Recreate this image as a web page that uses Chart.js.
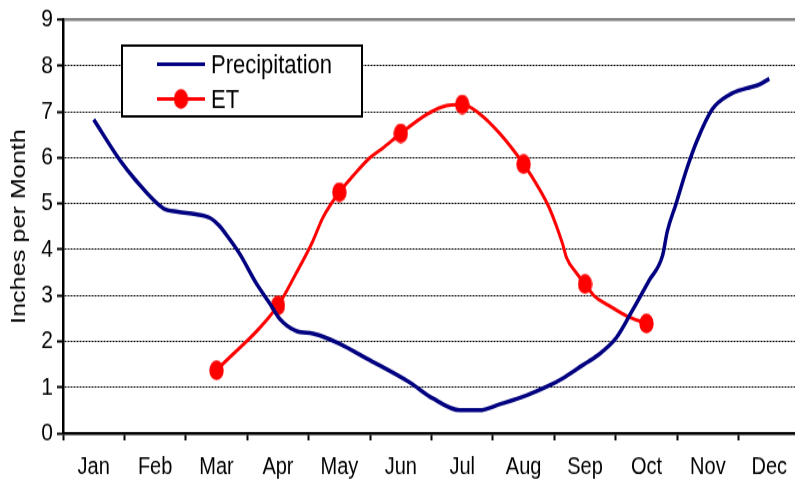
<!DOCTYPE html>
<html>
<head>
<meta charset="utf-8">
<script src="https://cdn.jsdelivr.net/npm/chart.js@4/dist/chart.umd.min.js"></script>
<style>
  html, body { margin: 0; padding: 0; background: #fff; overflow: hidden; width: 795px; height: 481px; }
  #wrap { transform: scaleY(1.2); transform-origin: 0 0; }
  canvas { display: block; }
</style>
</head>
<body>
<div id="wrap"><canvas id="c" width="810" height="401"></canvas></div>
<script>
// month labels, position 1 = Jan centre
const months = ['Jan', 'Feb', 'Mar', 'Apr', 'May', 'Jun', 'Jul', 'Aug', 'Sep', 'Oct', 'Nov', 'Dec'];

// precipitation trace
const precipMonth = [1.00, 1.44, 1.67, 2.13, 2.37, 2.66, 2.89, 3.05, 3.15, 3.38, 3.64, 3.87, 4.03, 4.29, 4.57, 4.68,
  5.00, 5.44, 6.14, 6.52, 6.96, 7.28, 7.61, 8.04, 8.42, 8.63, 8.96, 9.20, 9.51, 9.77, 10.04, 10.26, 10.34, 10.48,
  10.66, 10.82, 11.07, 11.35, 11.62, 11.83, 12.00];
const precipValue = [6.83, 5.92, 5.53, 4.90, 4.82, 4.77, 4.69, 4.51, 4.34, 3.90, 3.28, 2.82, 2.49, 2.23, 2.17, 2.13,
  1.95, 1.63, 1.11, 0.76, 0.50, 0.50, 0.63, 0.82, 1.04, 1.19, 1.48, 1.69, 2.08, 2.67, 3.32, 3.86, 4.40, 4.99,
  5.77, 6.36, 7.05, 7.37, 7.51, 7.59, 7.72];

// ET trace, markers sit on whole months (Mar..Oct)
const etMonth = [3, 4, 4.29, 4.57, 4.73, 5, 5.22, 5.49, 5.70, 6, 6.42, 6.68, 7, 7.28, 7.61, 8, 8.26, 8.42, 8.63, 8.70, 8.86, 9,
  9.15, 9.39, 9.67, 10];
const etValue = [1.37, 2.78, 3.47, 4.19, 4.69, 5.25, 5.60, 5.99, 6.20, 6.53, 6.94, 7.11, 7.16, 6.96, 6.53, 5.86, 5.31, 4.90, 4.14, 3.82, 3.49, 3.25,
  2.99, 2.78, 2.56, 2.39];

const yTicks = [0, 1, 2, 3, 4, 5, 6, 7, 8, 9];

const FONT = '"Liberation Sans", Arial, sans-serif';
const NAVY = '#000080';
const RED = '#ff0000';

// ellipse marker (Excel round marker, slightly tall)
const marker = document.createElement('canvas');
marker.width = 15; marker.height = 17;
{
  const m = marker.getContext('2d');
  m.fillStyle = RED;
  m.beginPath();
  m.ellipse(7.5, 8.5, 7.2, 8.2, 0, 0, Math.PI * 2);
  m.fill();
}

const boxLegend = {
  id: 'boxLegend',
  afterDraw(chart) {
    const ctx = chart.ctx;
    const x = 122, y = 38, w = 240, h = 59;
    ctx.save();
    ctx.fillStyle = '#fff';
    ctx.fillRect(x, y, w, h);
    ctx.strokeStyle = '#000';
    ctx.lineWidth = 2;
    ctx.strokeRect(x, y, w, h);
    ctx.font = '22px ' + FONT;
    ctx.textBaseline = 'middle';
    const rows = [53.5, 82.5];
    chart.data.datasets.forEach((ds, i) => {
      const ry = rows[i];
      ctx.strokeStyle = ds.borderColor;
      ctx.lineWidth = 3;
      ctx.beginPath();
      ctx.moveTo(157, ry);
      ctx.lineTo(205, ry);
      ctx.stroke();
      if (i === 1) ctx.drawImage(marker, 181 - 7.5, ry - 8.5);
      ctx.fillStyle = '#000';
      ctx.fillText(ds.label, 211, ry + 1);
    });
    ctx.restore();
  }
};

new Chart(document.getElementById('c'), {
  type: 'line',
  data: {
    datasets: [
      {
        label: 'Precipitation',
        data: precipMonth.map((m, i) => ({ x: m, y: precipValue[i] })),
        borderColor: NAVY,
        borderWidth: 3.5,
        pointRadius: 0,
        cubicInterpolationMode: 'monotone',
        fill: false
      },
      {
        label: 'ET',
        data: etMonth.map((m, i) => ({ x: m, y: etValue[i] })),
        borderColor: RED,
        borderWidth: 3,
        pointStyle: marker,
        pointRadius: ctx => Number.isInteger(ctx.raw.x) ? 8 : 0,
        pointBackgroundColor: RED,
        pointBorderWidth: 0,
        cubicInterpolationMode: 'monotone',
        fill: false
      }
    ]
  },
  options: {
    responsive: false,
    animation: false,
    layout: { padding: { top: 15, right: 9, bottom: 0, left: 0 } },
    plugins: { legend: { display: false }, tooltip: { enabled: false } },
    scales: {
      x: {
        type: 'linear',
        min: 0.5,
        max: 12.5,
        afterBuildTicks: s => {
          const t = [{ value: 0.5 }];
          months.forEach((m, i) => { t.push({ value: i + 1 }); t.push({ value: i + 1.5 }); });
          s.ticks = t;
        },
        afterFit: s => { s.height = 40; },
        grid: {
          drawOnChartArea: false,
          drawTicks: true,
          tickLength: 6,
          tickWidth: 2,
          tickColor: ctx => Number.isInteger(ctx.tick.value) ? 'rgba(0,0,0,0)' : '#000'
        },
        border: { display: true, color: '#000', width: 2.5 },
        ticks: {
          autoSkip: false,
          maxRotation: 0,
          padding: 10,
          color: '#000',
          font: { family: FONT, size: 20 },
          callback: v => Number.isInteger(v) ? months[v - 1] : ''
        }
      },
      y: {
        min: 0,
        max: 9,
        afterBuildTicks: s => { s.ticks = yTicks.map(v => ({ value: v })); },
        afterFit: s => { s.width = 63; },
        grid: {
          color: ctx => ctx.tick && ctx.tick.value === 9 ? '#808080' : '#000',
          lineWidth: ctx => ctx.tick && ctx.tick.value === 9 ? 2.5 : 1,
          tickLength: 6,
          tickWidth: 2,
          tickColor: '#000'
        },
        border: {
          display: true,
          color: '#000',
          width: 2.5,
          dash: ctx => ctx.tick && ctx.tick.value !== 9 ? [2, 1] : []
        },
        ticks: {
          padding: 4,
          color: '#000',
          font: { family: FONT, size: 21 }
        },
        title: {
          display: true,
          text: 'Inches per Month',
          color: '#000',
          font: { family: FONT, size: 21 },
          padding: { top: 7, bottom: 0 }
        }
      }
    }
  },
  plugins: [boxLegend]
});
</script>
</body>
</html>
